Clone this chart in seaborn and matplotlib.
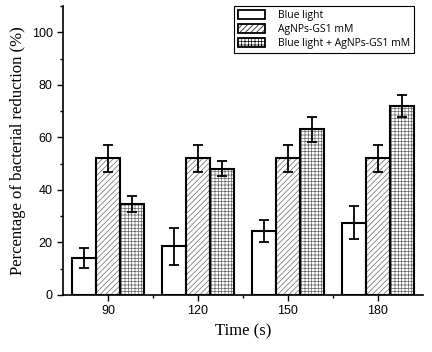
import pandas as pd
import seaborn as sns
import matplotlib.pyplot as plt
from matplotlib.patches import Patch, Rectangle
from matplotlib.ticker import MultipleLocator

times = ['90', '120', '150', '180']
groups = ['Blue light', 'AgNPs-GS1 mM', 'Blue light + AgNPs-GS1 mM']
blue_light = [14.0, 18.5, 24.4, 27.5]
blue_light_err = [3.7, 7.1, 4.2, 6.2]
agnps = [52.0, 52.0, 52.0, 52.0]
agnps_err = [5.2, 5.2, 5.2, 5.2]
combined = [34.5, 48.1, 63.1, 72.0]
combined_err = [3.0, 3.0, 4.7, 4.2]

df = pd.DataFrame({
    'time': times * 3,
    'group': [g for g in groups for _ in times],
    'value': blue_light + agnps + combined,
})
errs = [blue_light_err, agnps_err, combined_err]
hatches = ['', '//////', '+++++']
hatch_col = '#666666'

plt.rcParams['hatch.linewidth'] = 0.5

fig = plt.figure(figsize=(4.32, 3.52), dpi=100)
ax = fig.add_axes([0.146, 0.162, 0.833, 0.821])
sns.barplot(data=df, x='time', y='value', hue='group', order=times, hue_order=groups,
            palette=['white'] * 3, edgecolor=hatch_col, linewidth=0, width=0.8,
            errorbar=None, legend=False, ax=ax)

for cont, h, err in zip(ax.containers, hatches, errs):
    xs, ys = [], []
    for bar in cont:
        bar.set_hatch(h)
        # black outline drawn on top so the hatch can stay grey
        ax.add_patch(Rectangle(bar.get_xy(), bar.get_width(), bar.get_height(),
                               fill=False, edgecolor='black', linewidth=1.5, zorder=3))
        xs.append(bar.get_x() + bar.get_width() / 2)
        ys.append(bar.get_height())
    ax.errorbar(xs, ys, yerr=err, fmt='none', ecolor='black', elinewidth=1.3,
                capsize=3.5, capthick=1.3, zorder=5)

ax.set_xlim(-0.5, 3.5)
ax.set_ylim(0, 110)
ax.yaxis.set_major_locator(MultipleLocator(20))
ax.yaxis.set_minor_locator(MultipleLocator(10))
ax.set_xticks([0.5, 1.5, 2.5], minor=True)
ax.tick_params(which='major', direction='out', length=4, width=1, labelsize=9,
               labelfontfamily='Liberation Sans')
ax.tick_params(which='minor', direction='out', length=2.5, width=1)
for s in ['top', 'right']:
    ax.spines[s].set_visible(False)
for s in ['left', 'bottom']:
    ax.spines[s].set_linewidth(1.2)

ax.set_xlabel('Time (s)', fontsize=12, family='Liberation Serif')
ax.set_ylabel('Percentage of bacterial reduction (%)', fontsize=12, family='Liberation Serif')

handles = [Patch(facecolor='white', edgecolor='black', hatch=h, linewidth=1.3) for h in hatches]
leg = ax.legend(handles, groups, loc='upper right', bbox_to_anchor=(0.975, 1.0),
                borderaxespad=0, frameon=True, fancybox=False, edgecolor='black',
                framealpha=1, prop={'family': 'Open Sans', 'size': 7.5},
                handlelength=2.6, handleheight=1.0, labelspacing=0.25, borderpad=0.4,
                handletextpad=1.2)
leg.get_frame().set_linewidth(0.8)

fig.savefig('out.png', dpi=100)
